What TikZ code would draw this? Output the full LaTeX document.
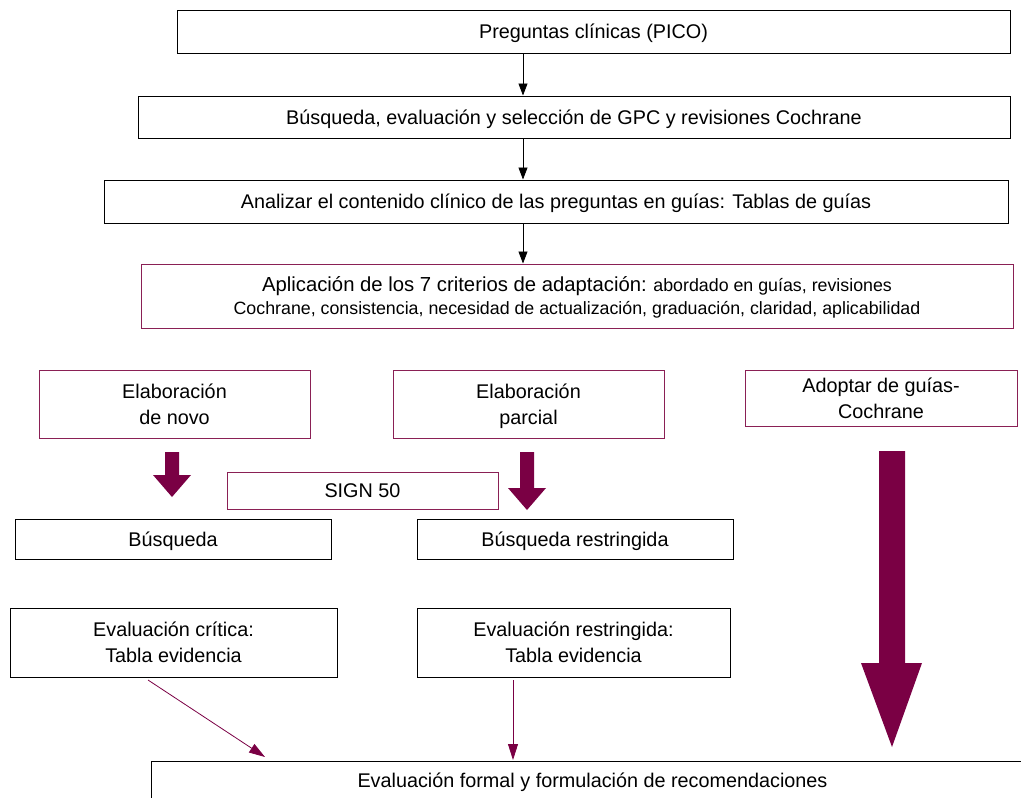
\documentclass[tikz,border=0pt]{standalone}
\usepackage{fontspec}
\setmainfont{Liberation Sans}
\usetikzlibrary{arrows.meta}
\definecolor{plum}{HTML}{7A0044}
\definecolor{plumline}{HTML}{8A2055}
\tikzset{
  blk/.style={draw=black, line width=1pt, inner sep=0pt, text depth=0pt, align=center, font=\fontsize{19.8}{26}\selectfont},
  pbox/.style={draw=plumline, line width=1pt, inner sep=0pt, text depth=0pt, align=center, font=\fontsize{19.8}{26}\selectfont},
  thin/.style={-{Triangle[length=12pt,width=9pt]}, line width=0.8pt, black},
  pthin/.style={-{Triangle[length=16pt,width=10pt]}, line width=0.8pt, plum},
  fat/.style={fill=plum, draw=none}
}
\begin{document}
\begin{tikzpicture}[x=1pt,y=-1pt]
\useasboundingbox (0,0) rectangle (1021,798);
\clip (0,0) rectangle (1021,798);
\node[blk, minimum width=833pt, minimum height=43pt] (n1) at (593.5,31.5) {Preguntas clínicas (PICO)};
\node[blk, minimum width=872pt, minimum height=42pt] (n2) at (574,117) {Búsqueda, evaluación y selección de GPC y revisiones Cochrane};
\node[blk, minimum width=904pt, minimum height=43pt] (n3) at (556,201.5) {Analizar el contenido clínico de las preguntas en guías: Tablas de guías};
\node[pbox, minimum width=872pt, minimum height=64pt, font=\fontsize{17.8}{23}\selectfont] (n4) at (577,296) {{\fontsize{20.3}{23}\selectfont Aplicación de los 7 criterios de adaptación:} abordado en guías, revisiones\\Cochrane, consistencia, necesidad de actualización, graduación, claridad, aplicabilidad};
\node[pbox, minimum width=271pt, minimum height=68pt] (e1) at (174.5,404) {Elaboración\\de novo};
\node[pbox, minimum width=271pt, minimum height=68pt] (e2) at (528.5,404) {Elaboración\\parcial};
\node[pbox, minimum width=272pt, minimum height=56pt, anchor=north] (e3) at (881,370) {Adoptar de guías-\\Cochrane};
\node[pbox, minimum width=271pt, minimum height=37pt] (s50) at (362.5,490.5) {SIGN 50};
\node[blk, minimum width=316pt, minimum height=40pt] (b1) at (173,539) {Búsqueda};
\node[blk, minimum width=316pt, minimum height=40pt] (b2) at (575,539) {Búsqueda restringida};
\node[blk, minimum width=327pt, minimum height=69pt] (c1) at (173.5,642.5) {Evaluación crítica:\\Tabla evidencia};
\node[blk, minimum width=313pt, minimum height=69pt] (c2) at (573.5,642.5) {Evaluación restringida:\\Tabla evidencia};
\node[blk, minimum width=882pt, minimum height=80pt, anchor=north west] (f) at (151,761) {\raisebox{0pt}[0pt][0pt]{\raisebox{14pt}{Evaluación formal y formulación de recomendaciones}}};
% thin black arrows
\draw[thin] (n1.south -| 523,0) -- (n2.north -| 523,0);
\draw[thin] (n2.south -| 523,0) -- (n3.north -| 523,0);
\draw[thin] (n3.south -| 523,0) -- (n4.north -| 523,0);
% fat arrows
\fill[fat] (165,452) -- (179,452) -- (179,475) -- (191,475) -- (172,497) -- (153,475) -- (165,475) -- cycle;
\fill[fat] (520,452) -- (534,452) -- (534,488) -- (546,488) -- (527,510) -- (508,488) -- (520,488) -- cycle;
\fill[fat] (879,451) -- (905,451) -- (905,663) -- (922,663) -- (892,747) -- (861,663) -- (879,663) -- cycle;
% thin plum arrows
\coordinate (a1) at (148,680);
\coordinate (a2) at (513,680);
\draw[pthin] (a1) -- (265,757);
\draw[pthin] (a2) -- (513,760);
\end{tikzpicture}
\end{document}
